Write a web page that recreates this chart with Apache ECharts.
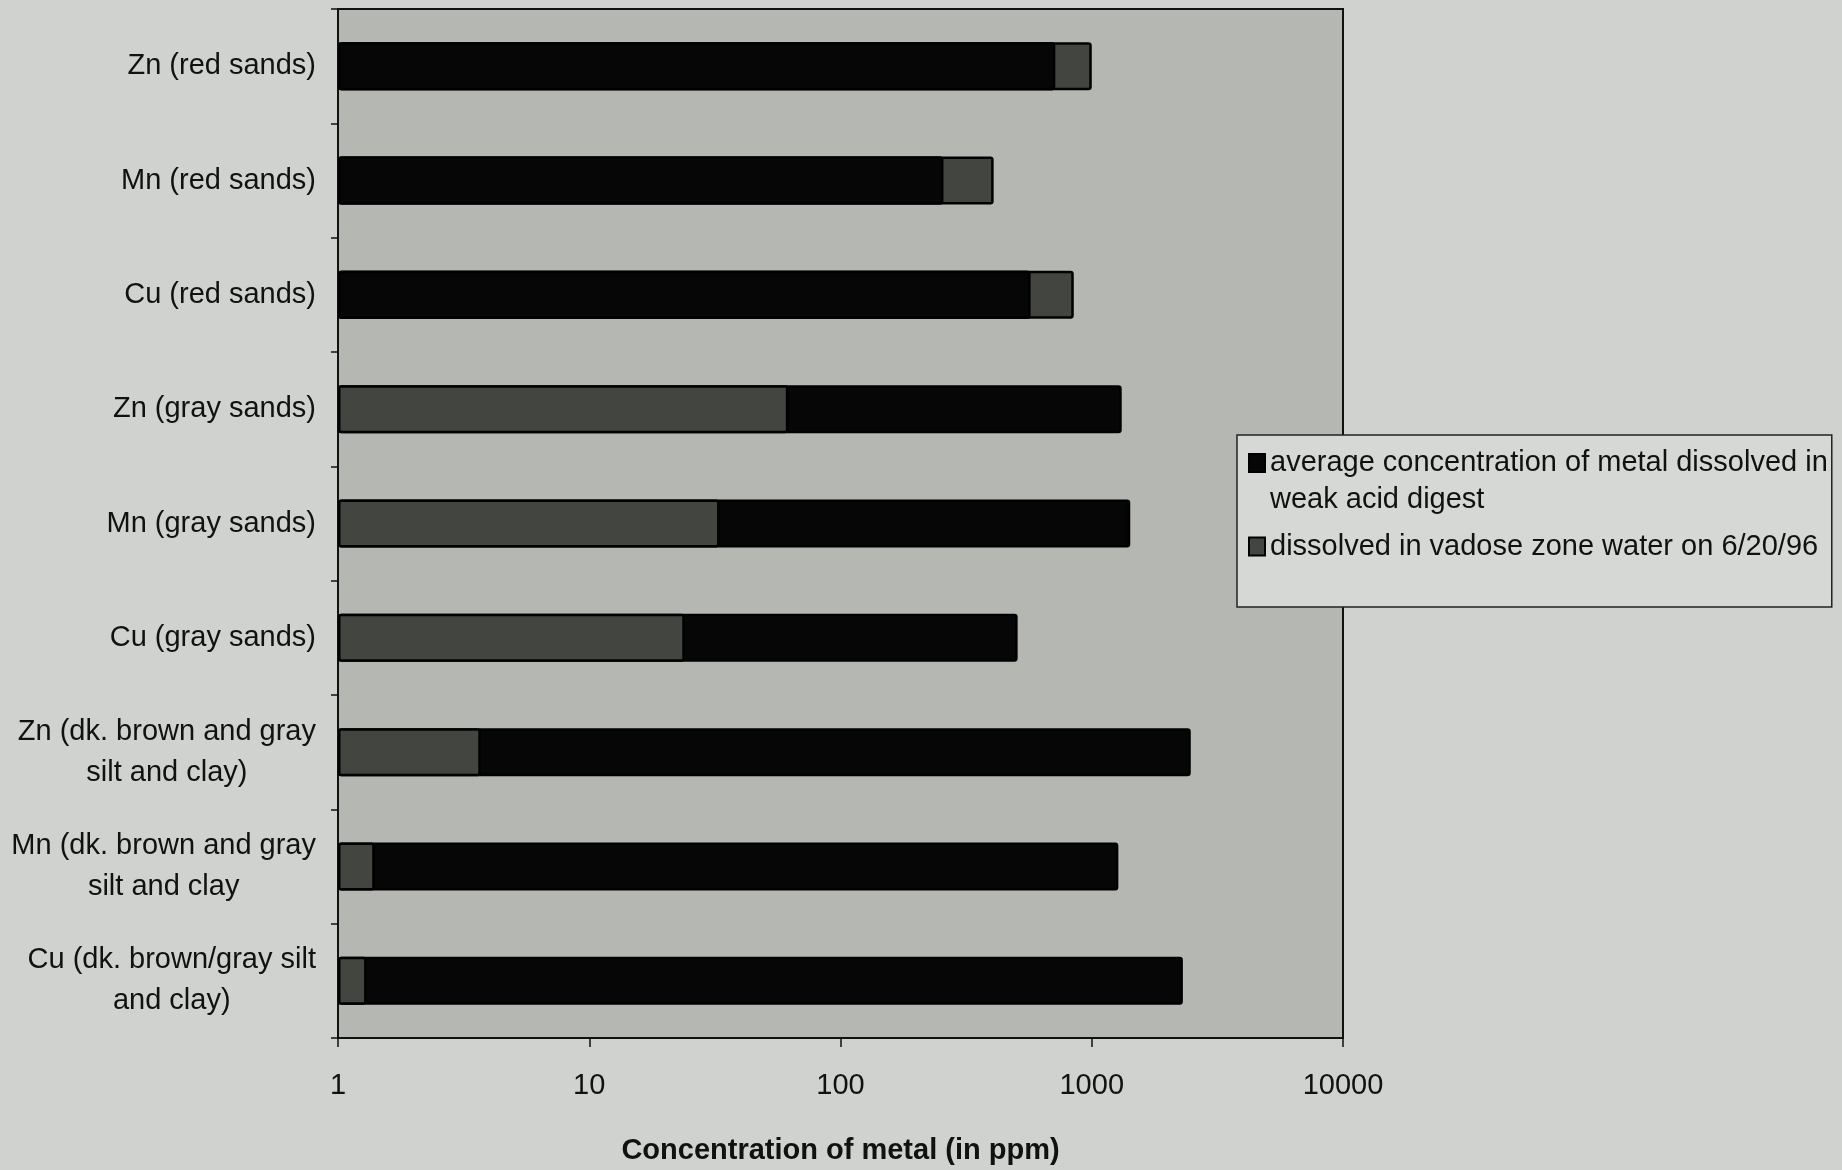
<!DOCTYPE html>
<html>
<head>
<meta charset="utf-8">
<script src="https://cdn.jsdelivr.net/npm/echarts@6/dist/echarts.min.js"></script>
<style>
  html, body { margin: 0; padding: 0; background: #cfd2ce; }
  #chart { width: 1842px; height: 1170px; }
</style>
</head>
<body>
<div id="chart"></div>
<script>
// Sample groups (top to bottom)
const categories = [
  'Zn (red sands)',
  'Mn (red sands)',
  'Cu (red sands)',
  'Zn (gray sands)',
  'Mn (gray sands)',
  'Cu (gray sands)',
  'Zn (dk. brown and gray\nsilt and clay)',
  'Mn (dk. brown and gray\nsilt and clay',
  'Cu (dk. brown/gray silt\nand clay)'
];

// Concentrations in ppm
const weakAcidDigest = [716, 257, 571, 1316, 1423, 507, 2478, 1276, 2305];
const vadoseWater    = [1000, 407, 848, 62, 33, 24, 3.7, 1.4, 1.3];

// Log-axis tick values
const tickValues = [1, 10, 100, 1000, 10000];

const nameAcid = 'average concentration of metal dissolved in weak acid digest';
const nameWater = 'dissolved in vadose zone water on 6/20/96';
const legendLines = {};
legendLines[nameAcid] = ['average concentration of metal dissolved in', 'weak acid digest'];
legendLines[nameWater] = ['dissolved in vadose zone water on 6/20/96'];

const FONT = '"Liberation Sans", Arial, Helvetica, sans-serif';
const INK = '#111111';
const FS = 29;

// The shorter bar of each pair is drawn in front of the longer one
const acidInFront = weakAcidDigest.map((v, i) => (v < vadoseWater[i] ? v : null));

const chart = echarts.init(document.getElementById('chart'), null, { renderer: 'canvas' });

const barBorder = { borderColor: '#000000', borderWidth: 2.5, borderRadius: 2 };

chart.setOption({
  animation: false,
  backgroundColor: '#cfd2ce',
  textStyle: { fontFamily: FONT, color: INK },
  grid: {
    left: 338, top: 9, width: 1005, height: 1032,
    show: true,
    backgroundColor: '#b4b7b2',
    borderColor: '#111111',
    borderWidth: 2
  },
  legend: {
    data: [nameAcid, nameWater],
    orient: 'vertical',
    left: 1237, top: 435,
    padding: [13, 4, 46, 11],
    itemGap: 18,
    itemWidth: 16, itemHeight: 18,
    icon: 'rect',
    selectedMode: false,
    backgroundColor: '#d5d8d4',
    borderColor: '#222222',
    borderWidth: 1.5,
    formatter: function (name) {
      const lines = legendLines[name];
      return lines.map((s, k) => (k === 0 ? '{l1|' + s + '}' : '{l2|' + s + '}')).join('\n');
    },
    textStyle: {
      fontFamily: FONT, fontSize: FS, color: INK,
      rich: {
        l1: { fontFamily: FONT, fontSize: FS, color: INK, lineHeight: 41 },
        l2: { fontFamily: FONT, fontSize: FS, color: INK, lineHeight: 1, verticalAlign: 'top', padding: [2, 0, 0, 0] }
      }
    }
  },
  xAxis: {
    type: 'log',
    logBase: 10,
    min: tickValues[0],
    max: tickValues[tickValues.length - 1],
    name: 'Concentration of metal (in ppm)',
    nameLocation: 'middle',
    nameGap: 98,
    nameTextStyle: { fontFamily: FONT, fontSize: 29, fontWeight: 'bold', color: INK },
    axisLine: { show: true, lineStyle: { color: '#111111', width: 2 } },
    axisTick: { show: true, length: 9, lineStyle: { color: '#111111', width: 1.5 } },
    splitLine: { show: false },
    minorTick: { show: false },
    axisLabel: {
      fontFamily: FONT, fontSize: FS, color: INK, margin: 33,
      formatter: function (v) { return String(Math.round(v)); }
    }
  },
  yAxis: {
    type: 'category',
    inverse: true,
    data: categories,
    axisLine: { show: true, lineStyle: { color: '#111111', width: 2 } },
    axisTick: { show: true, length: 7, alignWithLabel: false, lineStyle: { color: '#111111', width: 1.5 } },
    splitLine: { show: false },
    axisLabel: {
      margin: 22,
      formatter: function (v) {
        return v.split('\n').map(s => '{c|' + s + '}').join('\n');
      },
      rich: {
        c: { fontFamily: FONT, fontSize: FS, color: INK, align: 'center', lineHeight: 41 }
      }
    }
  },
  series: [
    {
      name: nameAcid,
      type: 'bar',
      data: weakAcidDigest,
      barWidth: 48,
      barGap: '-100%',
      z: 2,
      itemStyle: Object.assign({ color: '#060606' }, barBorder)
    },
    {
      name: nameWater,
      type: 'bar',
      data: vadoseWater,
      barWidth: 48,
      barGap: '-100%',
      z: 3,
      itemStyle: Object.assign({ color: '#434541' }, barBorder)
    },
    {
      name: nameAcid,
      type: 'bar',
      data: acidInFront,
      barWidth: 48,
      barGap: '-100%',
      z: 4,
      itemStyle: Object.assign({ color: '#060606' }, barBorder)
    }
  ]
});
</script>
</body>
</html>
